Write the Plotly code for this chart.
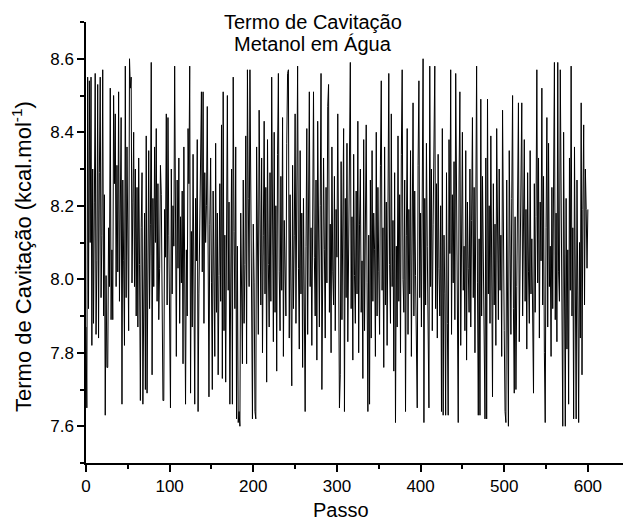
import plotly.graph_objects as go

# Cavitation term (kcal/mol) along the simulation steps, methanol in water
termo = [
    7.87, 7.65, 8.55, 7.92, 8.54, 8.10, 8.55, 7.82, 8.30, 7.88, 8.21, 8.56, 7.85, 8.05, 8.53, 7.84, 8.29, 8.55, 7.95, 8.12,
    8.57, 7.90, 8.23, 7.63, 8.01, 7.76, 7.76, 8.14, 7.98, 8.52, 7.89, 8.08, 7.89, 8.50, 8.26, 8.45, 7.98, 8.31, 8.02, 8.51,
    7.94, 8.18, 8.44, 7.66, 8.27, 8.05, 7.82, 8.58, 7.95, 8.36, 8.13, 7.86, 8.60, 8.52, 8.55, 7.99, 8.21, 8.40, 7.98, 8.30,
    7.90, 8.25, 7.87, 8.33, 8.04, 7.67, 8.14, 8.29, 7.66, 8.02, 8.18, 7.70, 8.39, 7.69, 8.07, 8.35, 7.92, 8.15, 8.59, 7.74,
    8.22, 7.98, 8.36, 8.10, 8.41, 7.94, 8.26, 7.89, 8.03, 8.31, 8.23, 7.86, 7.67, 7.67, 8.19, 8.06, 8.45, 7.93, 8.44, 8.12,
    7.81, 7.65, 8.30, 7.96, 8.20, 8.09, 8.58, 7.92, 7.79, 8.27, 8.03, 8.33, 7.88, 8.17, 7.99, 8.24, 7.77, 8.36, 7.95, 7.66,
    8.08, 7.90, 8.41, 8.26, 8.58, 7.69, 8.13, 7.87, 8.34, 7.97, 7.66, 8.22, 8.05, 8.38, 7.64, 7.96, 8.19, 8.28, 8.51, 8.02,
    8.51, 7.88, 8.29, 8.10, 8.20, 8.47, 7.93, 7.68, 8.15, 8.33, 7.99, 7.70, 8.24, 8.08, 7.79, 8.37, 7.91, 8.18, 7.74, 8.01,
    8.26, 7.94, 8.42, 7.73, 8.51, 7.86, 8.12, 7.72, 8.34, 8.50, 7.97, 8.21, 7.66, 8.06, 8.30, 7.66, 8.55, 8.13, 7.92, 8.36,
    7.62, 8.09, 7.61, 7.64, 7.60, 8.18, 7.95, 7.77, 8.27, 7.88, 8.04, 8.39, 7.77, 8.57, 8.22, 7.98, 8.57, 8.31, 7.90, 7.62,
    8.15, 7.99, 7.64, 7.62, 8.36, 8.07, 7.85, 8.46, 8.21, 7.93, 8.33, 7.80, 8.12, 8.43, 7.96, 8.25, 7.72, 8.38, 8.04, 7.87,
    8.29, 7.94, 8.55, 8.11, 7.83, 8.40, 7.91, 8.20, 7.75, 8.34, 8.56, 8.02, 7.86, 8.28, 7.97, 8.44, 7.79, 8.16, 8.05, 7.90,
    8.37, 8.56, 8.57, 7.84, 8.23, 7.99, 7.71, 8.31, 7.92, 8.12, 8.45, 7.88, 8.26, 8.58, 8.03, 7.81, 8.35, 7.96, 8.18, 7.76,
    8.22, 7.93, 7.64, 8.09, 8.41, 7.85, 8.30, 8.51, 7.98, 8.14, 7.82, 8.38, 8.51, 8.06, 7.90, 8.27, 7.78, 8.43, 8.00, 7.87,
    8.20, 8.56, 7.70, 7.95, 8.33, 8.08, 7.84, 8.25, 7.99, 8.47, 8.53, 7.91, 8.15, 7.80, 8.36, 8.02, 7.93, 8.28, 7.86, 8.19,
    8.06, 8.45, 7.97, 7.65, 7.74, 8.32, 7.89, 8.13, 8.41, 7.64, 8.22, 7.95, 8.37, 7.83, 8.10, 8.29, 8.59, 7.92, 8.17, 7.78,
    8.34, 8.01, 7.88, 8.24, 7.96, 8.43, 7.80, 8.15, 8.30, 7.91, 8.05, 7.73, 8.38, 7.86, 8.20, 8.42, 7.99, 7.64, 8.12, 7.66,
    8.27, 7.84, 8.35, 7.94, 8.18, 8.08, 7.79, 8.40, 7.90, 8.25, 8.02, 7.85, 8.31, 8.54, 7.97, 8.14, 7.76, 8.36, 7.93, 8.21,
    7.82, 8.33, 8.56, 8.04, 7.88, 8.45, 7.98, 8.16, 7.75, 8.29, 7.61, 8.09, 7.87, 8.39, 7.94, 8.23, 7.80, 8.34, 8.57, 8.00,
    7.91, 8.27, 7.64, 8.12, 8.41, 7.85, 8.19, 7.96, 8.35, 7.79, 8.06, 8.48, 7.90, 8.24, 8.01, 7.83, 7.65, 8.31, 8.54, 7.95,
    8.18, 7.87, 8.43, 8.60, 7.61, 8.22, 7.93, 8.37, 8.09, 7.81, 7.65, 8.58, 7.98, 8.30, 7.86, 8.15, 8.45, 8.58, 7.92, 8.26,
    7.84, 8.34, 8.03, 7.90, 8.20, 7.64, 8.41, 7.63, 8.12, 7.96, 7.63, 8.29, 7.88, 7.63, 8.38, 8.07, 8.57, 7.85, 8.23, 7.99,
    8.32, 7.89, 8.56, 8.14, 7.93, 7.61, 8.27, 8.51, 7.82, 8.18, 8.40, 7.97, 8.09, 7.86, 8.35, 7.78, 8.21, 8.03, 7.91, 8.30,
    7.87, 8.16, 8.44, 7.95, 8.25, 7.80, 8.36, 8.58, 7.99, 7.63, 8.11, 7.63, 8.49, 7.90, 8.28, 8.05, 7.84, 7.62, 8.33, 7.62,
    8.49, 7.96, 8.20, 7.88, 8.39, 8.07, 7.68, 8.26, 7.93, 8.15, 7.82, 8.41, 8.01, 7.89, 8.30, 7.97, 8.12, 7.79, 8.46, 8.04,
    7.86, 7.64, 7.61, 8.27, 7.95, 7.60, 8.35, 8.10, 7.85, 8.22, 8.50, 7.92, 7.69, 8.17, 7.70, 7.98, 8.32, 8.48, 7.83, 8.06,
    8.24, 8.48, 7.90, 8.13, 8.38, 7.94, 8.19, 7.81, 8.29, 8.02, 7.88, 8.35, 7.96, 8.11, 7.77, 7.69, 8.26, 7.91, 8.17, 8.57,
    7.99, 8.33, 7.84, 8.21, 8.05, 8.52, 7.93, 8.28, 7.80, 7.61, 8.14, 8.44, 7.87, 8.37, 7.98, 8.09, 7.79, 8.25, 7.92, 8.31,
    8.59, 7.89, 8.18, 7.83, 8.59, 8.02, 7.94, 8.57, 8.26, 7.86, 7.60, 8.40, 7.95, 7.60, 8.22, 7.81, 8.08, 7.66, 8.33, 7.97,
    8.58, 7.90, 8.14, 7.62, 8.36, 7.88, 7.62, 8.27, 7.99, 7.61, 8.10, 7.84, 8.48, 7.74, 8.19, 8.42, 7.93, 8.30, 8.19, 8.03,
    8.19,
]
passo = list(range(len(termo)))

titulo = ["Termo de Cavitação", "Metanol em Água"]
rotulo_x = "Passo"
rotulo_y = "Termo de Cavitação (kcal.mol<sup>-1</sup>)"

W, H = 623, 529
ML, MR, MT, MB = 86, 0, 22, 66
plot_w = W - ML - MR
plot_h = H - MT - MB

def px_x(px):
    return (px - ML) / plot_w

def px_y(py):
    return (H - MB - py) / plot_h

FONT = "Liberation Sans, Arial, sans-serif"

fig = go.Figure(
    go.Scatter(
        x=passo,
        y=termo,
        mode="lines",
        line=dict(color="black", width=1),
        showlegend=False,
    )
)

axis_common = dict(
    showline=True,
    linecolor="black",
    linewidth=1.5,
    ticks="outside",
    ticklen=7,
    tickwidth=1.5,
    tickcolor="black",
    showgrid=False,
    zeroline=False,
    tickfont=dict(family=FONT, size=17, color="black"),
)

fig.update_xaxes(
    range=[0, 642],
    tick0=0,
    dtick=100,
    minor=dict(ticks="outside", ticklen=4, tickwidth=1.5, tickcolor="black", dtick=50, showgrid=False),
    **axis_common,
)
fig.update_yaxes(
    range=[7.5, 8.7],
    tick0=7.6,
    dtick=0.2,
    tickformat=".1f",
    minor=dict(ticks="outside", ticklen=4, tickwidth=1.5, tickcolor="black", dtick=0.1, showgrid=False),
    **axis_common,
)

annotations = [
    dict(text=titulo[0], x=px_x(313), y=px_y(22), xref="paper", yref="paper",
         xanchor="center", yanchor="middle", showarrow=False,
         font=dict(family=FONT, size=20, color="black")),
    dict(text=titulo[1], x=px_x(313), y=px_y(44), xref="paper", yref="paper",
         xanchor="center", yanchor="middle", showarrow=False,
         font=dict(family=FONT, size=20, color="black")),
    dict(text=rotulo_x, x=px_x(341), y=px_y(510), xref="paper", yref="paper",
         xanchor="center", yanchor="middle", showarrow=False,
         font=dict(family=FONT, size=20, color="black")),
    dict(text=rotulo_y, x=px_x(22), y=px_y(257), xref="paper", yref="paper",
         xanchor="center", yanchor="middle", showarrow=False, textangle=-90,
         font=dict(family=FONT, size=22, color="black")),
]

fig.update_layout(
    width=W,
    height=H,
    margin=dict(l=ML, r=MR, t=MT, b=MB),
    paper_bgcolor="white",
    plot_bgcolor="white",
    annotations=annotations,
)

fig.write_html("out.html")
